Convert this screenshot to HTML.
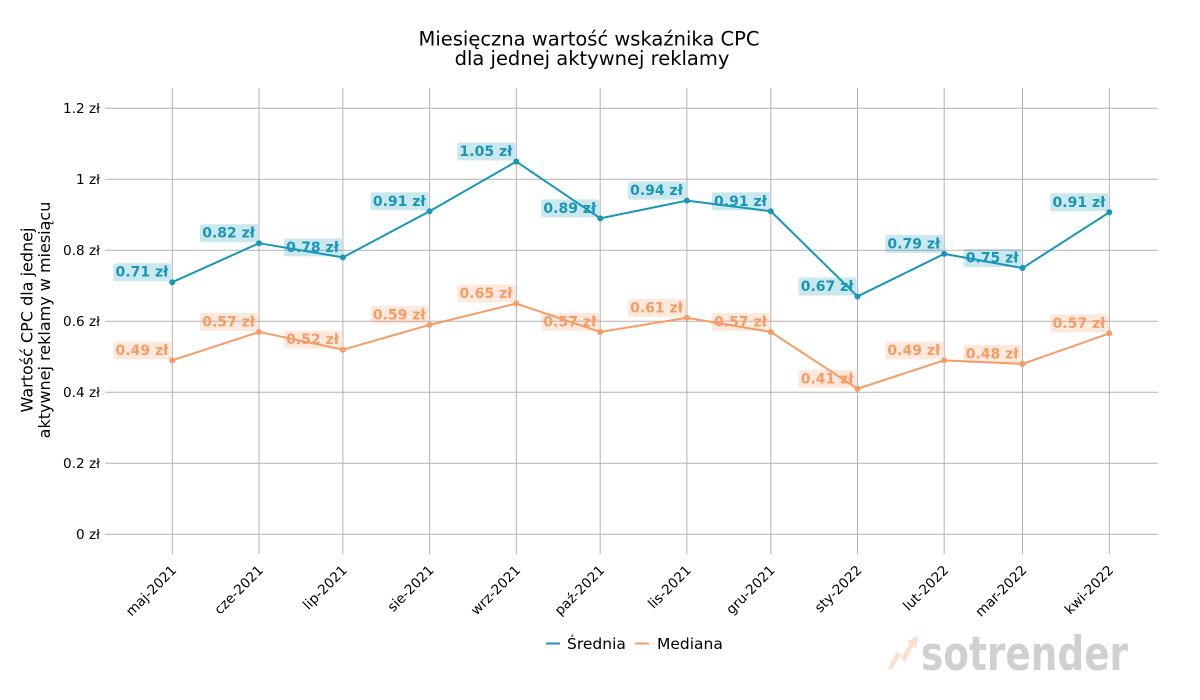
<!DOCTYPE html>
<html>
<head>
<meta charset="utf-8">
<style>
  html,body{margin:0;padding:0;background:#fff;}
  svg{display:block;}
  text{font-family:"DejaVu Sans","Liberation Sans",sans-serif;}
</style>
</head>
<body>
<svg width="1200" height="700" viewBox="0 0 1200 700" xmlns="http://www.w3.org/2000/svg">
  <rect width="1200" height="700" fill="#fff"/>

  <!-- Title -->
  <text x="589" y="45.5" font-size="19.5" text-anchor="middle" fill="#000">Miesięczna wartość wskaźnika CPC</text>
  <text x="592" y="65" font-size="19.5" text-anchor="middle" fill="#000">dla jednej aktywnej reklamy</text>

  <!-- Horizontal grid -->
  <g stroke="#b3b3b3" stroke-width="1">
    <line x1="105" x2="1158" y1="534.3" y2="534.3"/>
    <line x1="105" x2="1158" y1="463.3" y2="463.3"/>
    <line x1="105" x2="1158" y1="392.3" y2="392.3"/>
    <line x1="105" x2="1158" y1="321.3" y2="321.3"/>
    <line x1="105" x2="1158" y1="250.3" y2="250.3"/>
    <line x1="105" x2="1158" y1="179.3" y2="179.3"/>
    <line x1="105" x2="1158" y1="108.3" y2="108.3"/>
  </g>
  <!-- Vertical grid -->
  <g stroke="#b3b3b3" stroke-width="1">
    <line x1="172.3" x2="172.3" y1="88" y2="554"/>
    <line x1="259.0" x2="259.0" y1="88" y2="554"/>
    <line x1="342.9" x2="342.9" y1="88" y2="554"/>
    <line x1="429.6" x2="429.6" y1="88" y2="554"/>
    <line x1="516.3" x2="516.3" y1="88" y2="554"/>
    <line x1="600.2" x2="600.2" y1="88" y2="554"/>
    <line x1="686.9" x2="686.9" y1="88" y2="554"/>
    <line x1="770.8" x2="770.8" y1="88" y2="554"/>
    <line x1="857.5" x2="857.5" y1="88" y2="554"/>
    <line x1="944.2" x2="944.2" y1="88" y2="554"/>
    <line x1="1022.5" x2="1022.5" y1="88" y2="554"/>
    <line x1="1109.3" x2="1109.3" y1="88" y2="554"/>
  </g>

  <!-- Y tick labels -->
  <g font-size="13.6" text-anchor="end" fill="#000">
    <text x="100" y="539">0 zł</text>
    <text x="100" y="468">0.2 zł</text>
    <text x="100" y="397">0.4 zł</text>
    <text x="100" y="326">0.6 zł</text>
    <text x="100" y="255">0.8 zł</text>
    <text x="100" y="184">1 zł</text>
    <text x="100" y="113">1.2 zł</text>
  </g>

  <!-- Y axis label -->
  <text transform="translate(32.5,320) rotate(-90)" font-size="16" text-anchor="middle" fill="#000">Wartość CPC dla jednej</text>
  <text transform="translate(50,320) rotate(-90)" font-size="16" text-anchor="middle" fill="#000">aktywnej reklamy w miesiącu</text>

  <!-- X tick labels -->
  <g font-size="13.6" text-anchor="end" fill="#000">
    <text transform="translate(177.3,571) rotate(-45)">maj-2021</text>
    <text transform="translate(264.0,571) rotate(-45)">cze-2021</text>
    <text transform="translate(347.9,571) rotate(-45)">lip-2021</text>
    <text transform="translate(434.6,571) rotate(-45)">sie-2021</text>
    <text transform="translate(521.3,571) rotate(-45)">wrz-2021</text>
    <text transform="translate(605.2,571) rotate(-45)">paź-2021</text>
    <text transform="translate(691.9,571) rotate(-45)">lis-2021</text>
    <text transform="translate(775.8,571) rotate(-45)">gru-2021</text>
    <text transform="translate(862.5,571) rotate(-45)">sty-2022</text>
    <text transform="translate(949.2,571) rotate(-45)">lut-2022</text>
    <text transform="translate(1027.5,571) rotate(-45)">mar-2022</text>
    <text transform="translate(1114.3,571) rotate(-45)">kwi-2022</text>
  </g>

  <!-- Series lines -->
  <polyline fill="none" stroke="#1896b8" stroke-width="2" stroke-linejoin="round"
    points="172.3,282.2 259.0,243.2 342.9,257.4 429.6,211.25 516.3,161.55 600.2,218.35 686.9,200.6 770.8,211.25 857.5,296.45 944.2,253.85 1022.5,268.05 1109.3,212.3"/>
  <polyline fill="none" stroke="#f79c65" stroke-width="2" stroke-linejoin="round"
    points="172.3,360.35 259.0,331.95 342.9,349.7 429.6,324.85 516.3,303.55 600.2,331.95 686.9,317.75 770.8,331.95 857.5,388.75 944.2,360.35 1022.5,363.9 1109.3,333.4"/>

  <!-- Markers -->
  <g fill="#1896b8">
    <circle cx="172.3" cy="282.2" r="3"/><circle cx="259.0" cy="243.2" r="3"/><circle cx="342.9" cy="257.4" r="3"/>
    <circle cx="429.6" cy="211.25" r="3"/><circle cx="516.3" cy="161.55" r="3"/><circle cx="600.2" cy="218.35" r="3"/>
    <circle cx="686.9" cy="200.6" r="3"/><circle cx="770.8" cy="211.25" r="3"/><circle cx="857.5" cy="296.45" r="3"/>
    <circle cx="944.2" cy="253.85" r="3"/><circle cx="1022.5" cy="268.05" r="3"/><circle cx="1109.3" cy="212.3" r="3"/>
  </g>
  <g fill="#f79c65">
    <circle cx="172.3" cy="360.35" r="3"/><circle cx="259.0" cy="331.95" r="3"/><circle cx="342.9" cy="349.7" r="3"/>
    <circle cx="429.6" cy="324.85" r="3"/><circle cx="516.3" cy="303.55" r="3"/><circle cx="600.2" cy="331.95" r="3"/>
    <circle cx="686.9" cy="317.75" r="3"/><circle cx="770.8" cy="331.95" r="3"/><circle cx="857.5" cy="388.75" r="3"/>
    <circle cx="944.2" cy="360.35" r="3"/><circle cx="1022.5" cy="363.9" r="3"/><circle cx="1109.3" cy="333.4" r="3"/>
  </g>

  <!-- Blue label boxes -->
  <g fill="#1896b8" fill-opacity="0.22">
    <rect x="113.3" y="263.2" width="58" height="18" rx="2"/>
    <rect x="200.0" y="224.2" width="58" height="18" rx="2"/>
    <rect x="283.9" y="238.4" width="58" height="18" rx="2"/>
    <rect x="370.6" y="192.25" width="58" height="18" rx="2"/>
    <rect x="457.3" y="142.55" width="58" height="18" rx="2"/>
    <rect x="541.2" y="199.35" width="58" height="18" rx="2"/>
    <rect x="627.9" y="181.6" width="58" height="18" rx="2"/>
    <rect x="711.8" y="192.25" width="58" height="18" rx="2"/>
    <rect x="798.5" y="277.45" width="58" height="18" rx="2"/>
    <rect x="885.2" y="234.85" width="58" height="18" rx="2"/>
    <rect x="963.5" y="249.05" width="58" height="18" rx="2"/>
    <rect x="1050.3" y="193.3" width="58" height="18" rx="2"/>
  </g>
  <!-- Orange label boxes -->
  <g fill="#f79c65" fill-opacity="0.22">
    <rect x="113.3" y="341.35" width="58" height="18" rx="2"/>
    <rect x="200.0" y="312.95" width="58" height="18" rx="2"/>
    <rect x="283.9" y="330.7" width="58" height="18" rx="2"/>
    <rect x="370.6" y="305.85" width="58" height="18" rx="2"/>
    <rect x="457.3" y="284.55" width="58" height="18" rx="2"/>
    <rect x="541.2" y="312.95" width="58" height="18" rx="2"/>
    <rect x="627.9" y="298.75" width="58" height="18" rx="2"/>
    <rect x="711.8" y="312.95" width="58" height="18" rx="2"/>
    <rect x="798.5" y="369.75" width="58" height="18" rx="2"/>
    <rect x="885.2" y="341.35" width="58" height="18" rx="2"/>
    <rect x="963.5" y="344.9" width="58" height="18" rx="2"/>
    <rect x="1050.3" y="314.4" width="58" height="18" rx="2"/>
  </g>

  <!-- Blue labels -->
  <g font-size="14" font-weight="bold" fill="#1896b8" text-anchor="end">
    <text x="168.3" y="276.7">0.71 zł</text>
    <text x="255.0" y="237.7">0.82 zł</text>
    <text x="338.9" y="251.9">0.78 zł</text>
    <text x="425.6" y="205.75">0.91 zł</text>
    <text x="512.3" y="156.05">1.05 zł</text>
    <text x="596.2" y="212.85">0.89 zł</text>
    <text x="682.9" y="195.1">0.94 zł</text>
    <text x="766.8" y="205.75">0.91 zł</text>
    <text x="853.5" y="290.95">0.67 zł</text>
    <text x="940.2" y="248.35">0.79 zł</text>
    <text x="1018.5" y="262.55">0.75 zł</text>
    <text x="1105.3" y="206.8">0.91 zł</text>
  </g>
  <!-- Orange labels -->
  <g font-size="14" font-weight="bold" fill="#f79c65" text-anchor="end">
    <text x="168.3" y="354.85">0.49 zł</text>
    <text x="255.0" y="326.45">0.57 zł</text>
    <text x="338.9" y="344.2">0.52 zł</text>
    <text x="425.6" y="319.35">0.59 zł</text>
    <text x="512.3" y="298.05">0.65 zł</text>
    <text x="596.2" y="326.45">0.57 zł</text>
    <text x="682.9" y="312.25">0.61 zł</text>
    <text x="766.8" y="326.45">0.57 zł</text>
    <text x="853.5" y="383.25">0.41 zł</text>
    <text x="940.2" y="354.85">0.49 zł</text>
    <text x="1018.5" y="358.4">0.48 zł</text>
    <text x="1105.3" y="327.9">0.57 zł</text>
  </g>

  <!-- Legend -->
  <line x1="546" x2="560" y1="643.5" y2="643.5" stroke="#1896b8" stroke-width="2"/>
  <text x="567" y="649" font-size="15.5" fill="#000">Średnia</text>
  <line x1="635" x2="649" y1="643.5" y2="643.5" stroke="#f79c65" stroke-width="2"/>
  <text x="657" y="649" font-size="15.5" fill="#000">Mediana</text>

  <!-- Watermark -->
  <polygon points="888,669 897,651 902,657 910,643 906,642 918,636 916,649 913,646 905,662 900,656 892,669" fill="#fcdccb"/>
  <text x="921" y="670" font-family="'DejaVu Sans',sans-serif" font-size="47" font-weight="bold" fill="#d0d0d0" textLength="207" lengthAdjust="spacingAndGlyphs">sotrender</text>
</svg>
</body>
</html>
